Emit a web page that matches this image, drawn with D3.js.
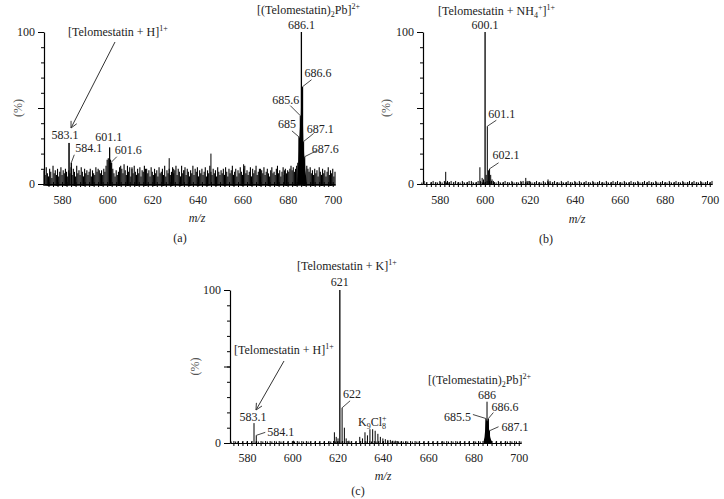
<!DOCTYPE html>
<html>
<head>
<meta charset="utf-8">
<script src="https://cdn.jsdelivr.net/npm/d3@7"></script>
<style>
body{margin:0;background:#fff;}
text{font-family:"Liberation Serif","DejaVu Serif",serif;fill:#222;}
</style>
</head>
<body>
<script>
var w=724;
var h=499;

// ---- data ----
var xTickLabels=[580,600,620,640,660,680,700];
var yTickLabels=[0,100];

// (a) noise trace, every 0.5 m/z starting at 572
var noiseStartA=572, noiseStepA=0.5;
var noiseA=[
 9,6,11,7,5,10,8,4,12,7,9,6,10,5,8,11,6,9,7,10,
 8,5,9,7,11,6,10,8,5,12,7,9,6,11,8,5,10,7,9,6,
 8,10,5,9,7,6,11,8,10,9,7,9,6,10,8,12,16,17,15,16,
 14,10,7,5,9,6,8,11,12,10,7,13,9,6,12,8,11,5,10,7,
 12,8,6,10,7,11,5,9,8,12,6,10,7,9,5,11,8,6,10,7,
 9,5,11,7,8,10,6,12,5,9,7,10,6,8,11,7,9,12,6,10,
 8,5,12,7,9,11,6,10,8,5,9,7,12,6,10,8,11,5,9,7,
 10,6,8,11,5,9,7,12,8,6,10,7,9,5,11,8,6,9,7,10,
 6,11,8,5,10,7,9,12,6,8,10,5,9,7,11,8,6,10,12,7,
 9,6,8,11,5,10,7,9,12,6,8,10,5,9,7,11,6,8,10,7,
 5,9,11,7,8,6,10,12,7,9,5,8,11,6,10,7,9,8,10,12,
 9,11,8,10,12,14,0,0,0,0,0,0,0,12,10,8,11,7,9,6,
 10,7,9,5,11,8,6,10,7,9,5,8,11,6,9,7,10,5,8
];
var spikeMzA=[583.1,584.1,601.1,601.6,611,617,627.5,629.5,634,646,660.5,668,678.6];
var spikeIntA=[27,14,24,14,11,10,17,10,9,20,13,10,9];
var clusterMzA=[684.3,684.6,684.9,685,685.2,685.5,685.6,685.8,686,686.1,686.2,686.4,686.6,686.8,687,687.1,687.3,687.5,687.6,687.8,688.1,688.4];
var clusterIntA=[3,10,22,31,30,38,45,42,55,60,55,50,58,40,26,28,20,16,18,10,6,2];
var labelTextA=["583.1","584.1","601.1","601.6","685","685.6","686.1","686.6","687.1","687.6"];
var labelMzA=[583.1,584.1,601.1,601.6,685,685.6,686.1,686.6,687.1,687.6];
var labelIntA=[27,14,24,14,31,45,100,64,28,18];

// (b) noise every 1 m/z starting at 572
var noiseStartB=572, noiseStepB=1;
var noiseB=[
 1,2,1,0,1,2,1,1,2,1,
 2,1,1,2,1,2,1,1,2,1,
 1,2,2,1,1,2,2,1,1,2,
 2,2,1,1,2,1,1,2,1,1,
 2,1,1,1,2,2,1,1,2,1,
 1,2,1,1,2,1,2,1,1,2,
 1,1,2,1,1,2,1,1,2,1,
 2,1,1,2,1,1,2,1,1,2,
 1,1,2,1,1,2,1,2,1,1,
 2,1,1,2,1,1,2,1,1,2,
 1,2,1,1,2,1,1,2,1,1,
 2,1,1,2,1,1,2,1,1,2,
 1,2,1,1,2,1,1,2,1,2
];
var spikeMzB=[582.6,583.4,597.8,598.8,599.4,600.6,601.6,602.6,603.2,603.8,618.2,618.8,619.6,628.1,629];
var spikeIntB=[8,2,11,4,3,6,9,6,3,2,4,2,2,3,2];
var labelTextB=["600.1","601.1","602.1"];
var labelMzB=[600.1,601.1,602.1];
var labelIntB=[100,38,10];

// (c) noise every 1 m/z starting at 572
var noiseStartC=572, noiseStepC=1;
var noiseC=[
 0,1,0,1,1,0,1,0,1,0,
 1,0,1,1,0,1,0,1,0,1,
 0,1,0,1,1,0,1,0,1,1,
 0,1,0,1,0,1,1,0,1,0,
 1,0,1,0,1,1,0,1,1,1,
 1,1,0,1,1,0,1,0,1,1,
 0,1,0,1,0,1,1,0,1,0,
 1,0,1,1,0,1,0,1,0,1,
 0,1,0,1,1,0,1,0,1,0,
 1,0,1,0,1,1,0,1,0,1,
 0,1,1,0,1,0,1,0,1,1,
 0,1,0,1,1,0,1,0,1,0,
 1,0,1,1,0,1,0,1,0,1
];
var spikeMzC=[600.5,618.6,619.4,620.2,623,623.8,625,629.8,631,632.1,633.2,634.3,635.5,636.6,637.8,638.9,640,641.1,642.2,643.3,644.4,645.5,646.6,648,650];
var spikeIntC=[1.5,7,4,3,10,3,1.5,4,3,7,5,9,9,8,6,4,3,2.5,2,2,1.5,1.5,1.2,1,1];
var clusterMzC=[684.5,684.9,685.2,685.5,685.8,686,686.3,686.6,686.9,687.1,687.4,687.8,688.2];
var clusterIntC=[1,4,9,16,14,16,14,16,9,8,4,2,1];
var labelTextC=["583.1","584.1","621","622","685.5","686","686.6","687.1"];
var labelMzC=[583.1,584.1,621,622,685.5,686,686.6,687.1];
var labelIntC=[13,5,100,23,16,27,16,8];

// ---- layout ----
// label offsets: [text dx, text dy, anchor, leader dx, leader dy]
var labPosA=[[-4,-4,"middle"],[4,-11,"start",3,-8],[-1,-7,"middle"],[4,-9,"start",6,-6],
  [-3,-9,"end",-7,-6],[-1,-12,"end",-10,-10],[0,-3,"middle"],[2,-10,"start",9,-7],
  [3,-8,"start",10,-8],[7,-4,"start",12,-6]];
var labPosB=[[0,-3,"middle"],[1,-8,"start",9,-6],[3,-10,"start",9,-6]];
var labPosC=[[-1,-2,"middle"],[11,1,"start",9,-3],[0,-4,"middle"],[1,-10,"start",8,-7],
  [-15,2,"end",-13,-4],[0,-3,"middle"],[3,-8,"start",5,-6],[12,0,"start",9,-4]];

var svg=d3.select("body")
          .append("svg")
          .attr("width",w)
          .attr("height",h);

svg.append("defs").append("marker")
   .attr("id","arr")
   .attr("viewBox","0 0 10 10")
   .attr("refX",9).attr("refY",5)
   .attr("markerWidth",8).attr("markerHeight",8)
   .attr("orient","auto")
   .append("path")
   .attr("d","M1,1 L9,5 L1,9")
   .attr("fill","none")
   .attr("stroke","#333")
   .attr("stroke-width",1.1);

function drawPanel(p){
  var x=d3.scaleLinear().domain(p.dom).range([p.left,p.right]);
  var y=d3.scaleLinear().domain([0,100]).range([p.bottom,p.top]);
  var g=svg.append("g");

  //noise sticks
  g.selectAll(".noise")
   .data(p.noise)
   .enter()
   .append("line")
   .attr("x1",(d,i)=>x(p.noiseStart+i*p.noiseStep))
   .attr("x2",(d,i)=>x(p.noiseStart+i*p.noiseStep))
   .attr("y1",y(0)+p.below)
   .attr("y2",d=>y(d))
   .attr("stroke","#000")
   .attr("stroke-width",p.noiseW);

  //isotope cluster
  if(p.clMz){
    var area=d3.area()
               .x(d=>x(d[0]))
               .y0(y(0))
               .y1(d=>y(d[1]));
    g.append("path")
     .datum(p.clMz.map((m,i)=>[m,p.clInt[i]]))
     .attr("d",area)
     .attr("fill","#000");
  }

  //peaks
  var sticks=p.spMz.map((m,i)=>[m,p.spInt[i]])
              .concat(p.lbMz.map((m,i)=>[m,p.lbInt[i]]));
  g.selectAll(".peak")
   .data(sticks)
   .enter()
   .append("line")
   .attr("x1",d=>x(d[0]))
   .attr("x2",d=>x(d[0]))
   .attr("y1",y(0))
   .attr("y2",d=>y(d[1]))
   .attr("stroke","#000")
   .attr("stroke-width",d=>d[1]>50?1.3:1);

  //y axis
  var ya=g.append("g").attr("transform","translate("+p.left+",0)");
  ya.call(d3.axisLeft(y).tickValues(d3.range(0,101,10)).tickSize(3).tickSizeOuter(0).tickFormat(""));
  var yb=g.append("g").attr("transform","translate("+p.left+",0)");
  yb.call(d3.axisLeft(y).tickValues([0,50,100]).tickSize(6).tickPadding(3)
            .tickFormat(d=>yTickLabels.indexOf(d)>=0?d:""));
  yb.select(".domain").remove();

  //x axis
  var xa=g.append("g").attr("transform","translate(0,"+y(0)+")");
  xa.call(d3.axisBottom(x).tickValues(d3.range(574,701,2)).tickSize(3).tickSizeOuter(0).tickFormat(""));
  var xu=g.append("g").attr("transform","translate(0,"+y(0)+")");
  xu.call(d3.axisTop(x).tickValues(d3.range(574,701,2)).tickSize(2).tickFormat(""));
  xu.select(".domain").remove();
  var xl=g.append("g").attr("transform","translate(0,"+y(0)+")");
  xl.call(d3.axisBottom(x).tickValues(xTickLabels).tickSize(0).tickPadding(p.xPad));
  xl.select(".domain").remove();

  g.selectAll(".tick text")
   .attr("font-family","Liberation Serif")
   .attr("font-size",12);
  g.selectAll(".domain").attr("stroke-width",1.2);

  //peak labels with leaders
  p.lbText.forEach((t,i)=>{
    var px=x(p.lbMz[i]), py=y(p.lbInt[i]), o=p.lbPos[i];
    if(o.length>3){
      g.append("line")
       .attr("x1",px).attr("y1",py)
       .attr("x2",px+o[3]).attr("y2",py+o[4])
       .attr("stroke","#333").attr("stroke-width",0.9);
    }
    g.append("text")
     .attr("x",px+o[0]).attr("y",py+o[1])
     .attr("text-anchor",o[2])
     .attr("font-size",12)
     .text(t);
  });

  //axis titles
  g.append("text")
   .attr("transform","translate("+p.pctX+","+(y(50))+") rotate(-90)")
   .attr("text-anchor","middle")
   .attr("dy","0.35em")
   .attr("font-size",12)
   .style("fill","#555")
   .text("(%)");
  g.append("text")
   .attr("x",p.mzX).attr("y",y(0)+p.mzDy)
   .attr("text-anchor","middle")
   .attr("font-size",12)
   .attr("font-style","italic")
   .text("m/z");
  g.append("text")
   .attr("x",p.capX).attr("y",y(0)+p.capDy)
   .attr("text-anchor","middle")
   .attr("font-size",12)
   .text(p.cap);
  return g;
}

// text with sub/superscripts: parts = [[string, "n"|"sub"|"sup"], ...]
function rich(x,y,parts){
  var t=svg.append("text").attr("x",x).attr("y",y).attr("font-size",12);
  var shift=0;
  parts.forEach(pt=>{
    var target=pt[1]=="sup"?-5:(pt[1]=="sub"?3:0);
    t.append("tspan")
     .attr("dy",target-shift)
     .attr("font-size",pt[1]=="n"?12:8)
     .text(pt[0]);
    shift=target;
  });
  return t;
}

function arrow(x1,y1,x2,y2){
  svg.append("line")
     .attr("x1",x1).attr("y1",y1)
     .attr("x2",x2).attr("y2",y2)
     .attr("stroke","#333")
     .attr("stroke-width",1)
     .attr("marker-end","url(#arr)");
}

drawPanel({dom:[572,701],left:44,right:335,top:32,bottom:184,
  noise:noiseA,noiseStart:noiseStartA,noiseStep:noiseStepA,noiseW:1.1,below:2,
  clMz:clusterMzA,clInt:clusterIntA,spMz:spikeMzA,spInt:spikeIntA,
  lbText:labelTextA,lbMz:labelMzA,lbInt:labelIntA,lbPos:labPosA,
  xPad:11,pctX:18,mzX:197,mzDy:38,capX:180,capDy:58,cap:"(a)"});

drawPanel({dom:[572.5,701],left:423,right:712,top:32,bottom:184,
  noise:noiseB,noiseStart:noiseStartB,noiseStep:noiseStepB,noiseW:1,below:1,
  spMz:spikeMzB,spInt:spikeIntB,
  lbText:labelTextB,lbMz:labelMzB,lbInt:labelIntB,lbPos:labPosB,
  xPad:11,pctX:386,mzX:577,mzDy:39,capX:546,capDy:59,cap:"(b)"});

drawPanel({dom:[572.5,701],left:230,right:521,top:290,bottom:443,
  noise:noiseC,noiseStart:noiseStartC,noiseStep:noiseStepC,noiseW:1,below:1,
  clMz:clusterMzC,clInt:clusterIntC,spMz:spikeMzC,spInt:spikeIntC,
  lbText:labelTextC,lbMz:labelMzC,lbInt:labelIntC,lbPos:labPosC,
  xPad:10,pctX:195,mzX:383,mzDy:37,capX:358,capDy:52,cap:"(c)"});

// species annotations
rich(68,36,[["[Telomestatin + H]","n"],["1+","sup"]]);
arrow(115,42,71,128);
rich(257,14,[["[(Telomestatin)","n"],["2","sub"],["Pb]","n"],["2+","sup"]]);
rich(438,15,[["[Telomestatin + NH","n"],["4","sub"],["+","sup"],["]","n"],["1+","sup"]]);
rich(297,270,[["[Telomestatin + K]","n"],["1+","sup"]]);
rich(234,354,[["[Telomestatin + H]","n"],["1+","sup"]]);
arrow(284,361,256,410);
rich(428,384,[["[(Telomestatin)","n"],["2","sub"],["Pb]","n"],["2+","sup"]]);
var k=rich(358,426,[["K","n"],["9","sub"],["Cl","n"],["8","sub"]]);
k.append("tspan").attr("dx",-4).attr("dy",-8).attr("font-size",8).text("+");
</script>
</body>
</html>
